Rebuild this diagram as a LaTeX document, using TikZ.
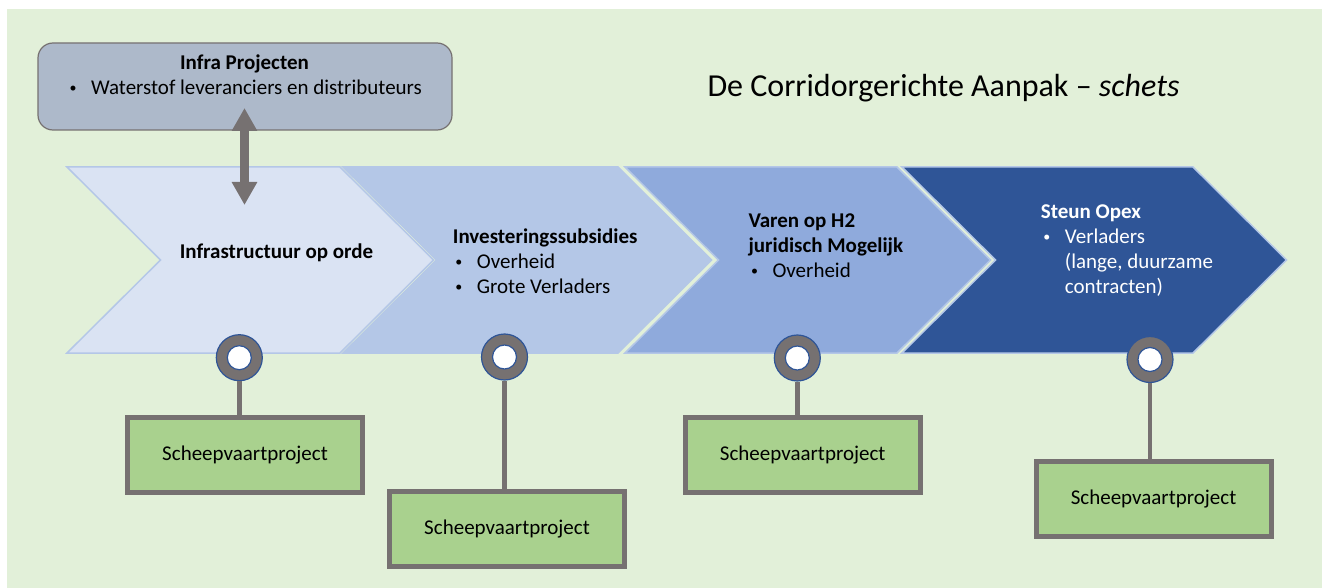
\documentclass[tikz,border=0pt]{standalone}
\usepackage{fontspec}
\setmainfont{Carlito}
\usetikzlibrary{arrows.meta,positioning}
\definecolor{bggreen}{HTML}{E2F0D9}
\definecolor{chevA}{HTML}{DAE3F3}
\definecolor{chevB}{HTML}{B4C7E7}
\definecolor{chevC}{HTML}{8FAADC}
\definecolor{chevD}{HTML}{2F5597}
\definecolor{chevline}{HTML}{B4C7E7}
\definecolor{infragray}{HTML}{ADB9CA}
\definecolor{ringgray}{HTML}{767171}
\definecolor{ringblue}{HTML}{2F5597}
\definecolor{projgreen}{HTML}{A9D18E}
\newcommand{\ChevTop}{167}
\newcommand{\ChevBot}{353}
\newcommand{\ChevMid}{260}
\newcommand{\ChevDepth}{93.5}
\newcommand{\bul}{\makebox[24pt][l]{\hspace{2.5pt}\raisebox{2pt}{\fontsize{14}{14}\selectfont\textbullet}}}

\begin{document}
\begin{tikzpicture}[x=1pt,y=-1pt,
  txt/.style={font=\fontsize{21}{25}\selectfont, inner sep=0pt, align=left},
  chev/.style={draw=chevline, line width=1.5pt},
  ringnode/.style={circle, minimum size=46pt, inner sep=0pt, fill=ringgray, draw=ringblue, line width=1.2pt},
  projbox/.style={draw=ringgray, line width=5pt, fill=projgreen, minimum width=235pt, minimum height=75pt, font=\fontsize{21}{25}\selectfont},
  stem/.style={draw=ringgray, line width=4.5pt},
  dblarrow/.style={{Triangle[width=24pt,length=23pt]}-{Triangle[width=24pt,length=23pt]}, draw=ringgray, line width=9pt}
]
\useasboundingbox (0,0) rectangle (1322,588);

% ----- Background -----
\fill[bggreen] (7,9) rectangle (1322,588);

% ----- Chevrons -----
\foreach \l/\r/\c in {67/340/chevA, 343/618/chevB, 625/897/chevC, 902/1193/chevD}{
  \filldraw[fill=\c, chev] (\l,\ChevTop) -- (\r,\ChevTop) -- (\r+\ChevDepth,\ChevMid)
    -- (\r,\ChevBot) -- (\l,\ChevBot) -- (\l+\ChevDepth,\ChevMid) -- cycle;
}

% ----- Infra box and arrow -----
\node[rectangle, rounded corners=15pt, minimum width=414pt, minimum height=87pt,
  fill=infragray, draw=ringgray, line width=1.2pt] (infra) at (245,86.5) {};
\node[txt, align=center] (infratxt) at (244.5,74.5)
  {\textbf{Infra Projecten}\\ \bul Waterstof leveranciers en distributeurs};
\coordinate (arrtop) at (244.5,108);
\coordinate (arrbot) at (244.5,205);
\draw[dblarrow] (arrtop) -- (arrbot);

% ----- Title -----
\node[font=\fontsize{32}{38}\selectfont, inner sep=0pt] (title) at (943.5,88)
  {De Corridorgerichte Aanpak – \textit{schets}};

% ----- Chevron texts -----
\node[txt] (stepinfra) at (276.5,253) {\textbf{Infrastructuur op orde}};
\node[txt, anchor=north west] (stepsubs) at (452.7,228.3)
  {\textbf{Investeringssubsidies}\\ \bul Overheid\\ \bul Grote Verladers};
\node[txt, anchor=north west] (stepvaren) at (748.3,213.3)
  {\textbf{Varen op H2}\\ \textbf{juridisch Mogelijk}\\ \bul Overheid};
\node[txt, anchor=north west, text=white] (stepopex) at (1040.7,204.9)
  {\textbf{Steun Opex}\\ \bul Verladers\\ \hspace*{24pt}(lange, duurzame\\ \hspace*{24pt}contracten)};

% ----- Scheepvaart projects -----
\node[projbox] (proj1) at (245,455) {Scheepvaartproject};
\node[projbox] (proj2) at (507,529) {Scheepvaartproject};
\node[projbox] (proj3) at (802.7,455) {Scheepvaartproject};
\node[projbox] (proj4) at (1153.5,499) {Scheepvaartproject};

\node[ringnode] (ring1) at (239.3,357.7) {};
\node[ringnode] (ring2) at (504.5,357) {};
\node[ringnode] (ring3) at (797.3,358) {};
\node[ringnode] (ring4) at (1150,359.5) {};

\foreach \i in {1,2,3,4}{
  \draw[stem] (ring\i.south) -- (ring\i.south |- proj\i.north);
  \filldraw[fill=white, draw=ringblue, line width=1.2pt] (ring\i) circle (12);
}

\end{tikzpicture}
\end{document}
